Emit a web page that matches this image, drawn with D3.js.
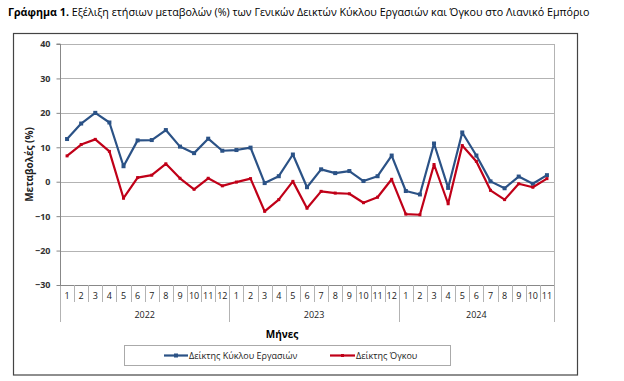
<!DOCTYPE html>
<html><head><meta charset="utf-8">
<script src="https://cdn.jsdelivr.net/npm/d3@7"></script>
<style>body{margin:0;background:#fff}svg{display:block}text{font-family:"Open Sans","Noto Sans",sans-serif}</style>
</head><body><svg id="c" width="624" height="381"></svg>
<script>
const years = ["2022","2023","2024"];
const monthsPerYear = [12,12,11];
const months = [1,2,3,4,5,6,7,8,9,10,11,12, 1,2,3,4,5,6,7,8,9,10,11,12, 1,2,3,4,5,6,7,8,9,10,11];
const turnover = [12.4,16.9,20.0,17.2,4.5,12.0,12.1,15.0,10.2,8.3,12.5,9.0,
                  9.2,9.9,-0.4,1.6,7.9,-1.6,3.6,2.5,3.1,0.2,1.6,7.6,
                  -2.7,-3.7,11.1,-1.8,14.3,7.6,0.1,-1.9,1.5,-0.6,1.9];
const volume = [7.5,10.8,12.3,8.8,-4.8,1.2,1.9,5.2,1.0,-2.2,1.0,-1.2,
                -0.1,0.9,-8.6,-5.2,0.1,-7.7,-2.8,-3.3,-3.5,-6.1,-4.5,0.7,
                -9.4,-9.6,5.0,-6.4,10.5,5.9,-2.5,-5.2,-0.6,-1.6,0.9];
const yTicks = [-30,-20,-10,0,10,20,30,40];
const seriesNames = ["Δείκτης Κύκλου Εργασιών","Δείκτης Όγκου"];
const colors = ["#2B5286","#C00018"];

const svg = d3.select("#c");
const L=60,R=554,T=44,B=285;
const idx = d3.range(months.length);
const x = d3.scaleBand().domain(idx).range([L,R]);
const y = d3.scaleLinear().domain([-30,40]).range([B,T]);

// title
const title = svg.append("text").attr("x",8).attr("y",16).attr("font-size",11).attr("fill","#000")
  .attr("font-family","'Liberation Sans Narrow','Open Sans',sans-serif");
title.append("tspan").attr("font-weight","bold").text("Γράφημα 1.");
title.append("tspan").text(" Εξέλιξη ετήσιων μεταβολών (%) των Γενικών Δεικτών Κύκλου Εργασιών και Όγκου στο Λιανικό Εμπόριο");
const tw = title.node().getComputedTextLength();
title.attr("font-size", Math.min(12.5, 11*582/tw));

// outer box
svg.append("rect").attr("x",13.5).attr("y",33.5).attr("width",564).attr("height",341.5)
  .attr("fill","none").attr("stroke","#444").attr("stroke-width",1.2);

// gridlines
svg.append("g").selectAll("line").data(yTicks).join("line")
  .attr("x1",L).attr("x2",R).attr("y1",d=>Math.round(y(d))+0.5).attr("y2",d=>Math.round(y(d))+0.5)
  .attr("stroke","#b3b3b3").attr("stroke-width",1);
// right border
svg.append("line").attr("x1",R+0.5).attr("x2",R+0.5).attr("y1",T).attr("y2",322).attr("stroke","#b3b3b3");

// y axis
const ya = svg.append("g").attr("transform",`translate(${L+0.5},0)`)
  .call(d3.axisLeft(y).tickValues(yTicks).tickSize(4).tickPadding(6).tickFormat(d3.format("d")));
ya.select(".domain").attr("stroke","#888").attr("d",`M-4,${y(40)}H0V${y(-30)}`);
ya.selectAll(".tick line").attr("stroke","#888");
ya.selectAll("text").attr("font-size",9).attr("font-weight","bold").attr("fill","#333")
  .attr("font-family","'Open Sans',sans-serif");
// left line extended down
svg.append("line").attr("x1",L+0.5).attr("x2",L+0.5).attr("y1",B).attr("y2",322).attr("stroke","#b3b3b3");

// x axis baseline
svg.append("line").attr("x1",L).attr("x2",R).attr("y1",B+0.5).attr("y2",B+0.5).attr("stroke","#888");

// month separators
const xa = svg.append("g");
xa.selectAll("line").data(idx.slice(1)).join("line")
  .attr("x1",d=>Math.round(x(d))+0.5).attr("x2",d=>Math.round(x(d))+0.5)
  .attr("y1",B).attr("y2",302).attr("stroke","#b3b3b3");
xa.selectAll("text").data(idx).join("text")
  .attr("x",d=>x(d)+x.bandwidth()/2).attr("y",299).attr("text-anchor","middle")
  .attr("font-size",9).attr("fill","#222").text(d=>months[d]);
// year separators and labels
let start=0;
const yearPos = years.map((yr,i)=>{const s=start; start+=monthsPerYear[i]; return {yr,s,e:start};});
svg.append("g").selectAll("line").data(yearPos.slice(1)).join("line")
  .attr("x1",d=>Math.round(x(d.s))+0.5).attr("x2",d=>Math.round(x(d.s))+0.5)
  .attr("y1",B).attr("y2",322).attr("stroke","#b3b3b3");
svg.append("g").selectAll("text").data(yearPos).join("text")
  .attr("x",d=>(x(d.s)+x(d.e-1)+x.bandwidth())/2).attr("y",318).attr("text-anchor","middle")
  .attr("font-size",9).attr("fill","#222").text(d=>d.yr);

// axis titles
svg.append("text").attr("x",282).attr("y",338).attr("text-anchor","middle")
  .attr("font-size",10).attr("font-weight","bold").text("Μήνες");
svg.append("text").attr("transform",`translate(33,${(T+B)/2}) rotate(-90)`).attr("text-anchor","middle")
  .attr("font-size",10).attr("font-weight","bold").attr("fill","#222").text("Μεταβολές (%)");

// series
const series=[turnover,volume];
const line = d3.line().x((d,i)=>x(i)+x.bandwidth()/2).y(d=>y(d));
series.forEach((s,k)=>{
  svg.append("path").datum(s).attr("d",line).attr("fill","none")
    .attr("stroke",colors[k]).attr("stroke-width",2.2).attr("stroke-linejoin","round");
  const ms = k===0?4:3;
  svg.append("g").selectAll("rect").data(s).join("rect")
    .attr("x",(d,i)=>x(i)+x.bandwidth()/2-ms/2).attr("y",d=>y(d)-ms/2)
    .attr("width",ms).attr("height",ms).attr("fill",colors[k]);
});

// legend
svg.append("rect").attr("x",124.5).attr("y",345.5).attr("width",326).attr("height",20)
  .attr("fill","#fff").attr("stroke","#aaa");
const lg=[{x0:164,x1:188,tx:189},{x0:330,x1:355,tx:356}];
lg.forEach((p,k)=>{
  svg.append("line").attr("x1",p.x0).attr("x2",p.x1).attr("y1",355.5).attr("y2",355.5)
    .attr("stroke",colors[k]).attr("stroke-width",2.2);
  const ms=k===0?4:3;
  svg.append("rect").attr("x",(p.x0+p.x1)/2-ms/2).attr("y",355.5-ms/2).attr("width",ms).attr("height",ms).attr("fill",colors[k]);
  svg.append("text").attr("x",p.tx).attr("y",358.5).attr("font-size",9).attr("fill","#222").text(seriesNames[k]);
});
</script></body></html>
